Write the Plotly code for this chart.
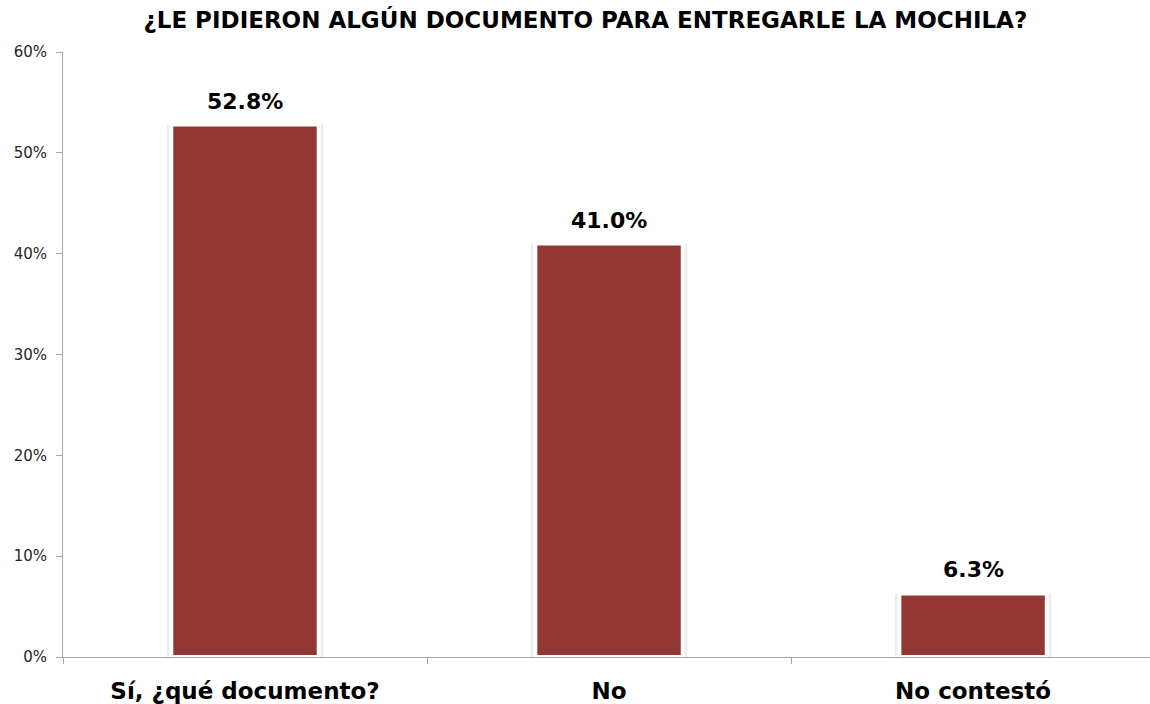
import plotly.graph_objects as go

categories = ["Sí, ¿qué documento?", "No", "No contestó"]
values = [52.8, 41.0, 6.3]
y_ticks = [0, 10, 20, 30, 40, 50, 60]
y_tick_labels = ["0%", "10%", "20%", "30%", "40%", "50%", "60%"]
title_text = "¿LE PIDIERON ALGÚN DOCUMENTO PARA ENTREGARLE LA MOCHILA?"

fig = go.Figure()
# faint shadow behind bars
fig.add_trace(go.Bar(
    x=categories, y=values, width=0.43,
    marker=dict(color="rgba(0,0,0,0.07)", line=dict(width=0)),
    hoverinfo="skip", showlegend=False,
))
fig.add_trace(go.Bar(
    x=categories, y=values, width=0.405,
    marker=dict(color="#943634", line=dict(color="white", width=4)),
    showlegend=False,
))

for c, v in zip(categories, values):
    fig.add_annotation(
        x=c, y=v, text=f"{v:.1f}%", showarrow=False,
        yanchor="bottom", yshift=9,
        font=dict(family="DejaVu Sans", size=22, color="black", weight="bold"),
    )

fig.update_layout(
    width=1150, height=704,
    margin=dict(l=63, r=0, t=52, b=47),
    paper_bgcolor="white", plot_bgcolor="white",
    barmode="overlay",
    title=dict(text=title_text, x=0.509, xanchor="center", y=0.972, yanchor="middle",
               font=dict(family="DejaVu Sans", size=23, color="black", weight="bold")),
    xaxis=dict(
        range=[-0.5, 2.486], showline=True, linecolor="#a6a6a6", linewidth=1,
        ticks="outside", tickson="boundaries", ticklen=6, tickcolor="#a6a6a6",
        showgrid=False, ticklabelstandoff=13,
        tickfont=dict(family="DejaVu Sans", size=23, color="black", weight="bold"),
    ),
    yaxis=dict(
        range=[0, 60], tickvals=y_ticks, ticktext=y_tick_labels,
        showline=True, linecolor="#a6a6a6", linewidth=1,
        ticks="outside", ticklen=6, tickcolor="#a6a6a6", showgrid=False,
        zeroline=False, ticklabelstandoff=6,
        tickfont=dict(family="DejaVu Sans", size=15, color="#262626"),
    ),
)

fig.write_html("out.html", config={"displayModeBar": False},
               post_script="document.body.style.margin='0px';document.body.style.overflow='hidden';")
